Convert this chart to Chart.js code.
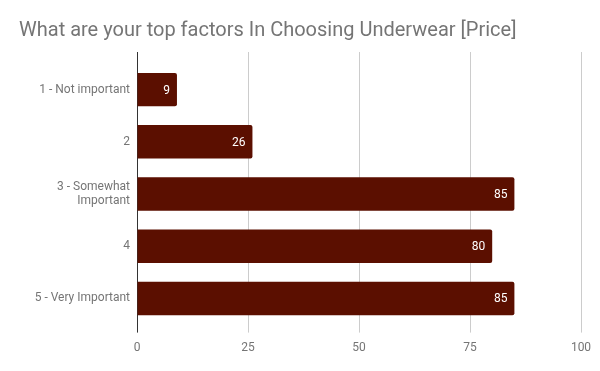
<!DOCTYPE html>
<html>
<head>
<meta charset="utf-8">
<script src="https://cdn.jsdelivr.net/npm/chart.js@4"></script>
<style>
  html, body { margin: 0; padding: 0; background: #fff; }
  #wrap { width: 600px; height: 371px; }
</style>
</head>
<body>
<div id="wrap"><canvas id="chart" width="600" height="371"></canvas></div>
<script>
// dati
const categorie = ["1 - Not important", "2", ["3 - Somewhat", "Important"], "4", "5 - Very Important"];
const valori = [9, 26, 85, 80, 85];
const tickValori = [0, 25, 50, 75, 100];

const titolo = "What are your top factors In Choosing Underwear [Price]";
const coloreBarre = "#5b0f00";
const grigioTesto = "#757575";

// etichette bianche dentro la fine della barra
const etichetteBarre = {
    id: "etichetteBarre",
    afterDatasetsDraw(chart) {
        const ctx = chart.ctx;
        const meta = chart.getDatasetMeta(0);
        ctx.save();
        ctx.font = "12px Roboto";
        ctx.fillStyle = "#ffffff";
        ctx.textAlign = "right";
        ctx.textBaseline = "middle";
        meta.data.forEach(function (bar, i) {
            ctx.fillText(String(valori[i]), bar.x - 7, bar.y + 1);
        });
        ctx.restore();
    }
};

function coloreGriglia(c) {
    return c.tick && c.tick.value === 0 ? "#333333" : "#cccccc";
}

new Chart(document.getElementById("chart"), {
    type: "bar",
    data: {
        labels: categorie,
        datasets: [{
            data: valori,
            backgroundColor: coloreBarre,
            borderRadius: 2,
            borderSkipped: "start",
            barPercentage: 0.64,
            categoryPercentage: 1
        }]
    },
    options: {
        indexAxis: "y",
        responsive: false,
        animation: false,
        layout: { padding: { left: 19, right: 19, top: 0, bottom: 8 } },
        plugins: {
            legend: { display: false },
            tooltip: { enabled: false },
            title: {
                display: true,
                text: titolo,
                align: "start",
                color: grigioTesto,
                font: { family: "Roboto", size: 20, weight: "normal", lineHeight: 1.2 },
                padding: { top: 19, bottom: 9 }
            }
        },
        scales: {
            x: {
                min: 0, max: 100,
                afterBuildTicks(scale) { scale.ticks = tickValori.map(v => ({ value: v })); },
                ticks: { color: grigioTesto, font: { family: "Roboto", size: 12 }, padding: 8 },
                grid: { color: coloreGriglia, tickLength: 8, lineWidth: 1 },
                border: { display: false }
            },
            x2: {
                position: "top",
                axis: "x",
                min: 0, max: 100,
                afterBuildTicks(scale) { scale.ticks = tickValori.map(v => ({ value: v })); },
                ticks: { display: false },
                grid: { color: coloreGriglia, tickLength: 11.5, drawOnChartArea: false },
                border: { display: false }
            },
            y: {
                afterFit(scale) { scale.width = 118; },
                ticks: { color: grigioTesto, font: { family: "Roboto", size: 12 }, padding: 7 },
                grid: { display: false, drawTicks: false },
                border: { display: false }
            }
        }
    },
    plugins: [etichetteBarre]
});
</script>
</body>
</html>
